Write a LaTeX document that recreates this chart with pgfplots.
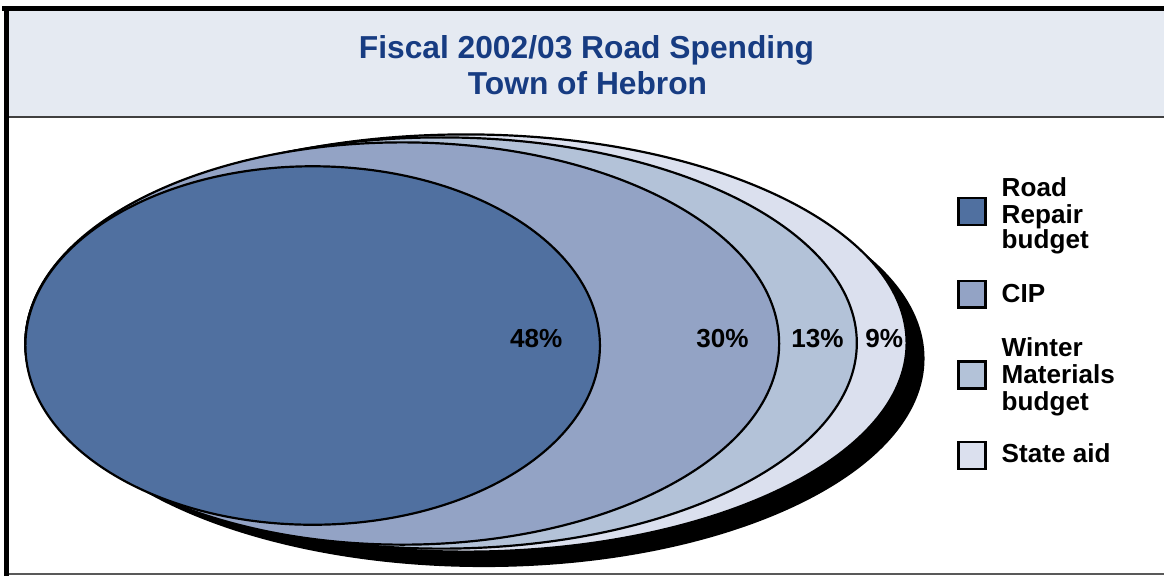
\documentclass[border=0pt]{standalone}
\usepackage{pgfplots}
\pgfplotsset{compat=1.18}
\usepackage{fontspec}
\setmainfont{Liberation Sans}
\definecolor{roadc}{HTML}{5070A0}
\definecolor{cipc}{HTML}{93A3C5}
\definecolor{winterc}{HTML}{B3C2D8}
\definecolor{statec}{HTML}{DBE0EE}
\definecolor{bandc}{HTML}{E5EAF2}
\definecolor{titlec}{HTML}{173C82}
\begin{document}
\begin{tikzpicture}
\begin{axis}[hide axis, scale only axis, width=1166bp, height=578bp,
  xmin=0, xmax=1166, ymin=0, ymax=578, clip=false]
% bounding area
\path (axis cs:0,0) rectangle (axis cs:1166,578);
% title band
\fill[bandc] (axis cs:7,461) rectangle (axis cs:1166,567);
\draw[line width=2bp, black!75] (axis cs:7,460) -- (axis cs:1166,460);
\draw[line width=2bp, black!65] (axis cs:7,2) -- (axis cs:1166,2);
\draw[line width=5bp, black] (axis cs:0,569.5) -- (axis cs:1166,569.5);
\draw[line width=5bp, black] (axis cs:4.5,0) -- (axis cs:4.5,572);
% title
\node[anchor=base, text=titlec, font=\bfseries\fontsize{32}{36}\selectfont] at (axis cs:586.5,519) {Fiscal 2002/03 Road Spending};
\node[anchor=base, text=titlec, font=\bfseries\fontsize{32}{36}\selectfont] at (axis cs:587.5,483) {Town of Hebron};
% shadow
\fill[black] (axis cs:483.5,218) ellipse [x radius=442.5, y radius=209.5];
% nested ellipses (State aid 9%, Winter 13%, CIP 30%, Road Repair 48%)
\draw[line width=2.2bp, fill=statec] (axis cs:465.5,233.5) ellipse [x radius=442.5, y radius=209.5];
\draw[line width=2.2bp, fill=winterc] (axis cs:440.5,233.5) ellipse [x radius=417.5, y radius=206.5];
\draw[line width=2.2bp, fill=cipc] (axis cs:401.5,233) ellipse [x radius=378.5, y radius=202];
\draw[line width=2.2bp, fill=roadc] (axis cs:311.5,231) ellipse [x radius=288.5, y radius=180];
% percentage labels
\node[anchor=base, font=\bfseries\fontsize{26.3}{28}\selectfont] at (axis cs:536,229) {48\%};
\node[anchor=base, font=\bfseries\fontsize{26.3}{28}\selectfont] at (axis cs:723,229) {30\%};
\node[anchor=base, font=\bfseries\fontsize{26.3}{28}\selectfont] at (axis cs:818.5,229) {13\%};
\node[anchor=base, font=\bfseries\fontsize{26.3}{28}\selectfont] at (axis cs:885.5,229) {9\%};
% legend boxes
\draw[line width=2.5bp, fill=roadc] (axis cs:960,352) rectangle (axis cs:987,379);
\draw[line width=2.5bp, fill=cipc] (axis cs:960,269) rectangle (axis cs:987,296);
\draw[line width=2.5bp, fill=winterc] (axis cs:960,188) rectangle (axis cs:987,215);
\draw[line width=2.5bp, fill=statec] (axis cs:960,107) rectangle (axis cs:987,134);
% legend text
\begin{scope}[every node/.style={anchor=base west, font=\bfseries\fontsize{26.3}{28}\selectfont}]
\node at (axis cs:1000,381) {Road};
\node at (axis cs:1000,354) {Repair};
\node at (axis cs:1000,328) {budget};
\node at (axis cs:1000,274) {CIP};
\node at (axis cs:1000,219.5) {Winter};
\node at (axis cs:1000,192.5) {Materials};
\node at (axis cs:1000,166) {budget};
\node at (axis cs:1000,114) {State aid};
\end{scope}
\end{axis}
\end{tikzpicture}
\end{document}
